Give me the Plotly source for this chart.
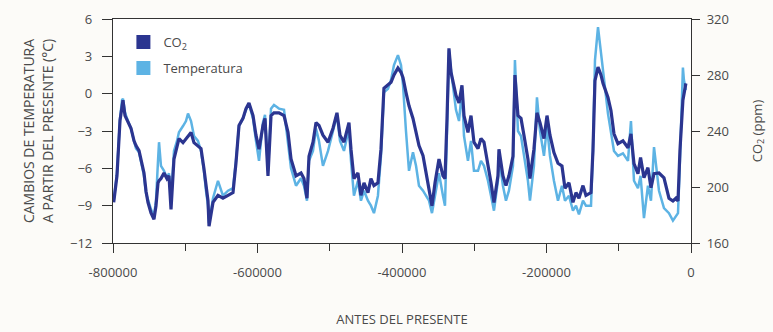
import plotly.graph_objects as go

# Years before present (negative = past)
years = [-799000, -794500, -790300, -787500, -786200, -783400, -780600, -775100, -770900, -768200,
         -764000, -761200, -758500, -757100, -754300, -751600, -747400, -743300, -740500, -737700,
         -736300, -733600, -729400, -725300, -722500, -719700, -715600, -711400, -708700, -703100,
         -699000, -696200, -692000, -687900, -682400, -678200, -674100, -671300, -668500, -667100,
         -661600, -654700, -647800, -640800, -633900, -629800, -625600, -620100, -615900, -611800,
         -606200, -602100, -597900, -592400, -589600, -585500, -581300, -577200, -570300, -563300,
         -557800, -553600, -546700, -539800, -535700, -531500, -528700, -523200, -519000, -514900,
         -509400, -502400, -495500, -490000, -485800, -480300, -473400, -470600, -466500, -461000,
         -456800, -452600, -447100, -443000, -438800, -433300, -429100, -425000, -419400, -415200,
         -411100, -405600, -401400, -398600, -394500, -390300, -384800, -380600, -376500, -370900,
         -366800, -362600, -358500, -354300, -348800, -343300, -340500, -337700, -335000, -332200,
         -329400, -325300, -321100, -317000, -314200, -308700, -304500, -300400, -294800, -290700,
         -286500, -281000, -276800, -272700, -267200, -265800, -260300, -256100, -252000, -246400,
         -243700, -239500, -235300, -231200, -225700, -222900, -217400, -213200, -209000, -203500,
         -199300, -195200, -189700, -184100, -178600, -174400, -168900, -163400, -159200, -155100,
         -149500, -145400, -138400, -135700, -132900, -128700, -124600, -121800, -114900, -110800,
         -106600, -101100, -94200, -87200, -83100, -78900, -73400, -69800, -65100, -59600,
         -55400, -51200, -44300, -37400, -30500, -25000, -20800, -18000, -15300, -11200,
         -9800, -7100]

# CO2 (ppm)
co2 = [189, 208, 247.5, 261, 262, 251, 247.5, 242, 233, 229.6,
       226, 220, 215, 210, 197, 189, 181.5, 177, 186.5, 203,
       204.5, 206, 210, 206, 208, 184, 220, 229.6, 234.6, 231.7,
       234.6, 236.8, 239, 231.7, 229.6, 227.4, 213, 201, 190, 172,
       189, 194, 192, 194, 196, 217, 244, 249, 256, 260,
       251, 237, 227, 244, 249, 208, 251, 253, 253, 251,
       239, 220, 208, 210, 206, 192, 222, 232, 246, 244,
       237, 232, 242, 253, 237, 232, 246, 227, 206, 210,
       194, 203, 196, 206, 201, 203, 227, 270.5, 272.6, 274.8,
       280, 285, 282, 278, 267.6, 258, 249, 239, 229.6, 222.4,
       210, 199, 186.5, 203, 220, 208, 206, 249, 299, 282,
       275, 265.5, 260, 272.6, 251, 239, 251, 232, 227.4, 234.6,
       232, 217, 203, 189, 208, 227, 208, 201, 208, 222,
       280, 251, 249, 237, 220, 206, 227, 253, 246, 234.6,
       251, 237, 224.6, 217, 215, 199, 203, 189, 196, 192,
       201, 194, 196, 226, 276, 285.6, 280, 274, 264, 254.7,
       238, 231, 233, 228, 238, 216.7, 209.5, 221, 206.6, 213.8,
       199.5, 209.5, 210, 206.6, 192, 190, 192, 190, 226, 262,
       267, 274]

# Temperature change relative to present (°C)
temp = [-8.6, -6.4, -2.0, -0.5, -0.4, -1.5, -2.0, -2.8, -3.8, -4.4,
        -4.7, -5.4, -6.2, -6.6, -8.0, -8.6, -9.3, -9.8, -8.6, -5.4,
        -3.9, -5.8, -6.2, -6.8, -6.4, -8.6, -4.6, -3.8, -3.1, -2.6,
        -2.2, -1.6, -2.2, -3.4, -3.8, -4.6, -6.2, -7.8, -9.0, -10.4,
        -8.4, -7.0, -8.2, -7.8, -7.6, -5.4, -2.6, -2.0, -1.3, -0.8,
        -2.0, -3.8, -5.4, -2.3, -1.7, -6.2, -1.2, -0.9, -1.2, -1.3,
        -3.8, -6.0, -7.4, -6.8, -7.4, -8.6, -5.4, -4.6, -2.8, -3.8,
        -5.8, -4.6, -3.0, -1.7, -3.8, -4.6, -2.8, -5.4, -8.2, -7.0,
        -8.6, -7.8, -8.6, -9.0, -9.6, -8.2, -5.0, 0.1, 0.4, 1.1,
        2.3, 3.1, 2.3, 0.7, -3.0, -6.2, -4.7, -5.8, -7.4, -7.8,
        -8.2, -8.6, -9.6, -8.2, -6.4, -8.2, -9.0, -3.0, 3.5, 1.9,
        0.7, -1.3, -2.2, 0.3, -3.4, -5.4, -3.8, -6.2, -6.2, -5.4,
        -5.8, -7.0, -8.2, -9.4, -7.0, -5.0, -7.4, -8.6, -7.8, -5.8,
        2.7, -3.0, -3.4, -5.0, -7.0, -8.6, -5.8, -0.3, -3.0, -5.0,
        -2.6, -5.0, -7.0, -8.6, -7.4, -8.6, -8.2, -9.4, -9.0, -9.7,
        -8.6, -9.0, -9.0, -4.6, 2.7, 5.35, 3.5, 1.9, -1.6, -3.0,
        -4.6, -5.0, -4.8, -5.4, -2.2, -7.0, -7.6, -6.6, -10.0, -7.4,
        -8.6, -4.3, -7.8, -9.2, -9.6, -10.2, -9.8, -9.6, -5.4, 2.1,
        1.1, 0.3]

x_tickvals = [-800000, -600000, -400000, -200000, 0]
x_ticktext = ["-800000", "-600000", "-400000", "-200000", "0"]
y_tickvals = [-12, -9, -6, -3, 0, 3, 6]
y2_tickvals = [160, 200, 240, 280, 320]

CO2_COLOR = "#2b3590"
TEMP_COLOR = "#5db3e4"
TEXT = "#4a4a4a"
AXIS = "#333333"
FONT = "Open Sans"

fig = go.Figure()

fig.add_trace(go.Scatter(x=years, y=temp, mode="lines", name="Temperatura",
                         line=dict(color=TEMP_COLOR, width=2.5), showlegend=False,
                         yaxis="y"))
fig.add_trace(go.Scatter(x=years, y=co2, mode="lines", name="CO<sub>2</sub>",
                         line=dict(color=CO2_COLOR, width=3.2), showlegend=False,
                         yaxis="y2"))

# legend swatches
fig.add_trace(go.Scatter(x=[None], y=[None], mode="markers", name="CO<sub>2</sub>",
                         marker=dict(symbol="square", size=14, color=CO2_COLOR),
                         legendgroup="a", legendrank=1))
fig.add_trace(go.Scatter(x=[None], y=[None], mode="markers", name="Temperatura",
                         marker=dict(symbol="square", size=14, color=TEMP_COLOR),
                         legendgroup="b", legendrank=2))

fig.update_layout(
    width=773, height=332,
    margin=dict(l=113, r=82, t=19, b=89),
    paper_bgcolor="#fcfbf8",
    plot_bgcolor="#ffffff",
    font=dict(family=FONT, size=13, color=TEXT),
    showlegend=True,
    legend=dict(x=0.018, y=0.964, xanchor="left", yanchor="top",
                bgcolor="rgba(0,0,0,0)", font=dict(size=13, color=TEXT),
                tracegroupgap=6),
    xaxis=dict(range=[-800000, 0], tickvals=x_tickvals, ticktext=x_ticktext,
               automargin=False,
               showline=True, linecolor=AXIS, linewidth=1.2, mirror=True,
               ticks="outside", ticklen=9, tickcolor=AXIS, tickwidth=1.2,
               minor=dict(ticks="outside", dtick=100000, tick0=0, ticklen=7,
                          tickcolor=AXIS, tickwidth=1.2),
               showgrid=False, zeroline=False,
               tickfont=dict(size=13, color=TEXT), ticklabelstandoff=8,
               title=dict(text="ANTES DEL PRESENTE", font=dict(size=13, color=TEXT),
                          standoff=35)),
    yaxis=dict(range=[-12, 6], tickvals=y_tickvals, automargin=False,
               showline=True, linecolor=AXIS, linewidth=1.2,
               ticks="outside", ticklen=10, tickcolor=AXIS, tickwidth=1.2,
               showgrid=False, zeroline=False,
               tickfont=dict(size=13, color=TEXT), ticklabelstandoff=7,
               title=dict(text="CAMBIOS DE TEMPERATURA<br>A PARTIR DEL PRESENTE (°C)",
                          font=dict(size=14, color=TEXT), standoff=13)),
    yaxis2=dict(range=[160, 320], tickvals=y2_tickvals, overlaying="y", side="right",
                automargin=False,
                showline=True, linecolor=AXIS, linewidth=1.2,
                ticks="outside", ticklen=8, tickcolor=AXIS, tickwidth=1.2,
                showgrid=False, zeroline=False,
                tickfont=dict(size=13, color=TEXT), ticklabelstandoff=4,
                title=dict(text="CO<sub>2</sub> (ppm)", font=dict(size=13, color=TEXT),
                           standoff=24)),
)

fig.write_html("out.html", config={"displayModeBar": False},
               post_script="document.body.style.margin='0';")
